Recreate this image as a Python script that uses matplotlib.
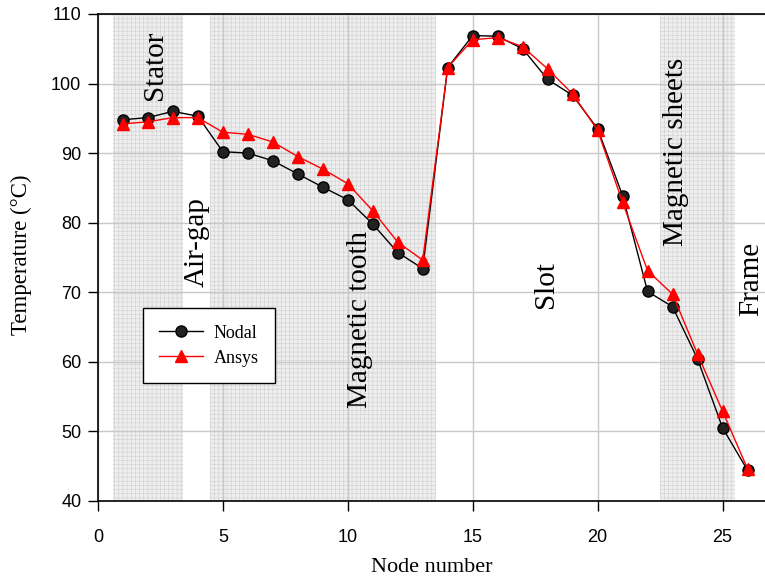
import matplotlib
matplotlib.use("Agg")
import matplotlib.pyplot as plt

plt.rcParams['font.family'] = ['Liberation Serif', 'DejaVu Serif']
plt.rcParams['hatch.color'] = '#b8b8b8'
plt.rcParams['hatch.linewidth'] = 0.4

nodes = list(range(1, 27))
nodal = [94.8, 95.1, 96.0, 95.3, 90.2, 90.0, 88.9, 87.0, 85.1, 83.3, 79.8, 75.7, 73.4,
         102.3, 106.9, 106.8, 105.0, 100.6, 98.3, 93.5, 83.9, 70.1, 67.9, 60.4, 50.5, 44.4]
ansys = [94.2, 94.5, 95.1, 95.1, 93.0, 92.7, 91.6, 89.5, 87.7, 85.6, 81.7, 77.2, 74.6,
         102.3, 106.3, 106.6, 105.3, 102.1, 98.5, 93.3, 82.9, 73.1, 69.7, 61.1, 52.9, 44.6]

# shaded material zones (start, end) along the node axis
zones = [(0.6, 3.4), (4.5, 13.55), (22.5, 25.5)]
# zone names: (text, x, y)
zone_labels = [("Stator", 2.3, 102.6), ("Air-gap", 3.95, 77.2), ("Magnetic tooth", 10.5, 66.0),
               ("Slot", 17.95, 71.1), ("Magnetic sheets", 23.15, 90.2), ("Frame", 26.15, 71.9)]

fig = plt.figure(figsize=(7.65, 5.83), dpi=100)
ax = fig.add_axes([0.128, 0.141, 0.872, 0.835])

for x0, x1 in zones:
    ax.axvspan(x0, x1, facecolor='#eeeeee', edgecolor='#d0d0d0', hatch='++++', lw=0, zorder=0)

ax.grid(True, color='#c8c8c8', lw=1.0, zorder=1)
ax.set_axisbelow(True)

ax.plot(nodes, nodal, color='black', lw=1.0, marker='o', ms=8, mfc='#222222', mec='black',
        label='Nodal', zorder=3)
ax.plot(nodes, ansys, color='red', lw=1.0, marker='^', ms=9, mfc='red', mec='red',
        label='Ansys', zorder=4)

for txt, x, y in zone_labels:
    ax.text(x, y, txt, rotation=90, ha='center', va='center', fontsize=21, color='black', zorder=5)

ax.set_xlim(0, 26.7)
ax.set_ylim(40, 110)
ax.set_xticks([0, 5, 10, 15, 20, 25])
ax.set_yticks(range(40, 111, 10))
ax.tick_params(direction='out', length=7, width=1, labelsize=13, colors='black')
ax.tick_params(axis='x', pad=13)
ax.tick_params(axis='y', pad=5)
for lab in ax.get_xticklabels() + ax.get_yticklabels():
    lab.set_fontfamily(['Liberation Sans', 'DejaVu Sans'])
ax.spines['right'].set_visible(False)
for s in ['left', 'bottom', 'top']:
    ax.spines[s].set_linewidth(1.2)

ax.set_xlabel('Node number', fontsize=16)
ax.set_ylabel('Temperature (°C)', fontsize=16.5)
ax.xaxis.label.set_verticalalignment('center')
ax.yaxis.label.set_verticalalignment('center')
ax.xaxis.set_label_coords(0.5, -0.1376)
ax.yaxis.set_label_coords(-0.114, 0.505)

leg = ax.legend(loc='lower left', bbox_to_anchor=(0.0675, 0.242), borderaxespad=0, fontsize=13,
                frameon=True, fancybox=False, edgecolor='black', framealpha=1, borderpad=0.9,
                handlelength=2.4, handletextpad=0.6, labelspacing=0.45)
leg.get_frame().set_linewidth(1.0)

fig.savefig('out.png', dpi=100)
